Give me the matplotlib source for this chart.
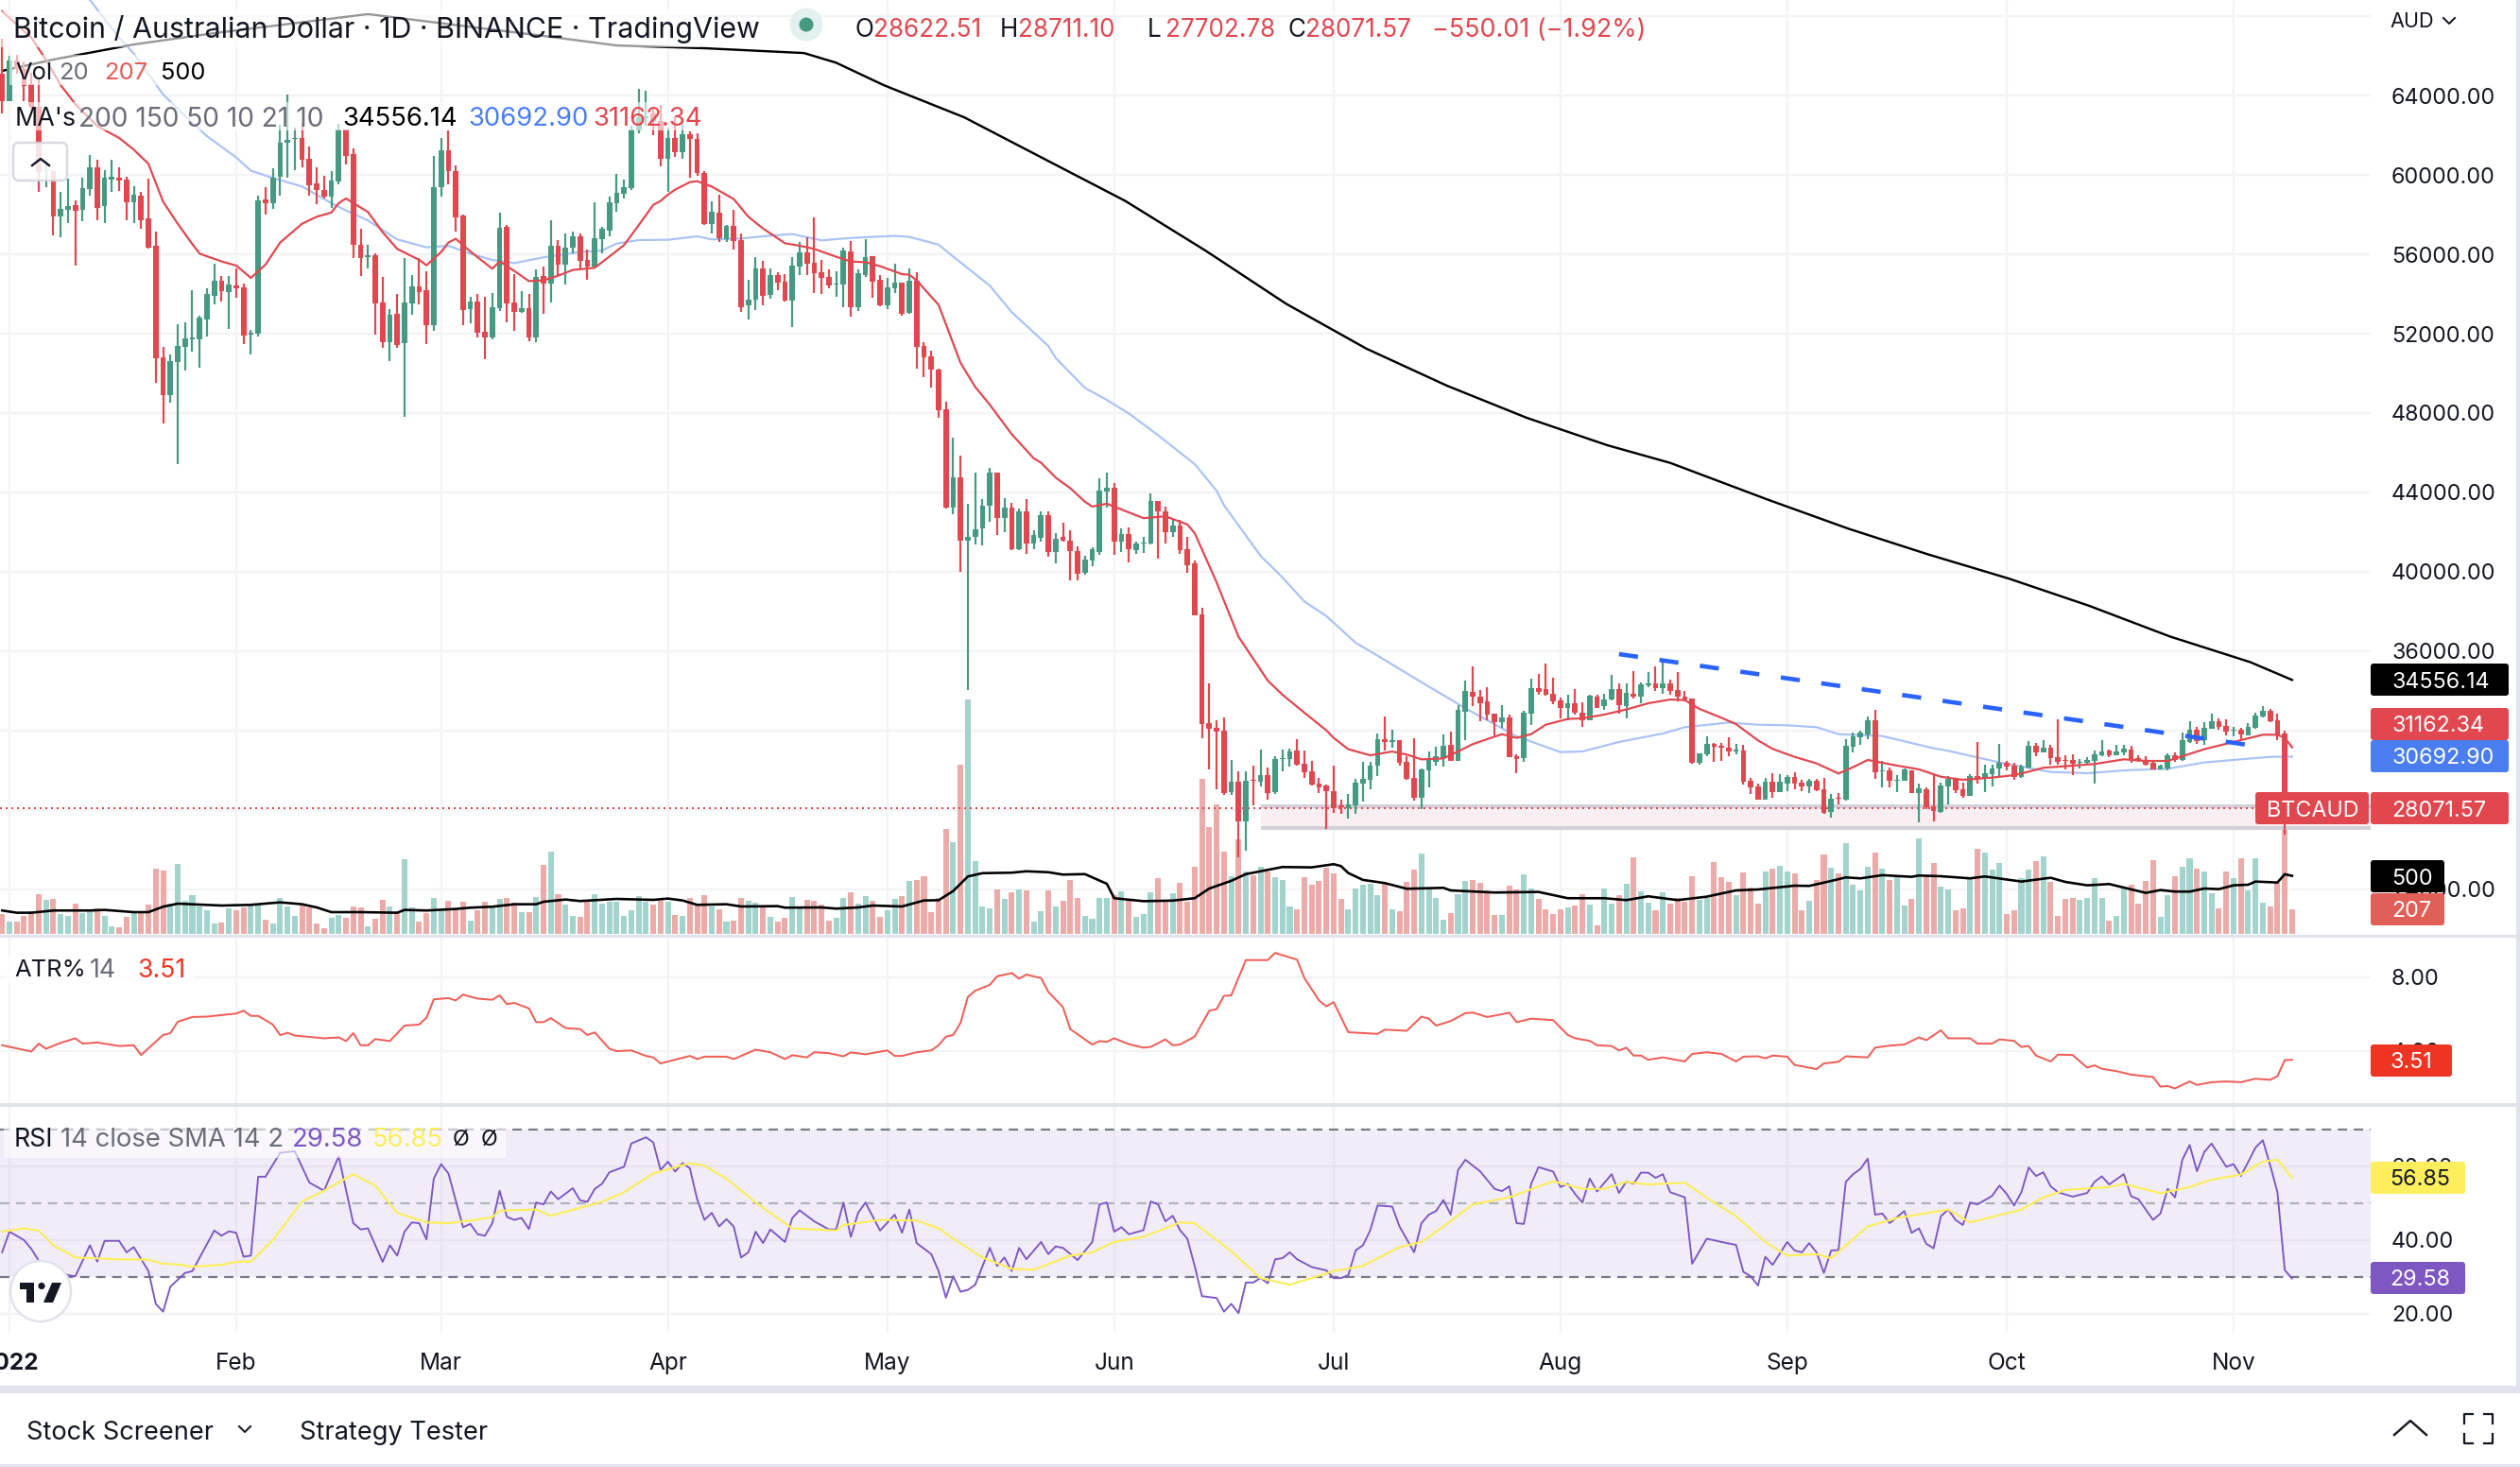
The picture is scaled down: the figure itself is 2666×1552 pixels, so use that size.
import numpy as np
from matplotlib import pyplot as plt
from matplotlib.patches import Rectangle, Circle, FancyBboxPatch, Polygon

plt.rcParams['font.family'] = ['Inter', 'DejaVu Sans']

# daily bars, each one (open, close, high, low), AUD
dec_bars = [(65080,63730,66860,63100)]
jan_bars = [(63730,65760,65985,63730),(65760,65320,66030,65080),(65320,64490,65715,63730),(64560,63415,65160,63335),
(63415,60160,64840,59130),(60190,60240,60795,59365),(60190,57905,60240,56955),(57905,58290,59130,56875),
(58255,58415,59795,57590),(58460,58210,58730,55445),(58255,59335,59845,57685),(59290,60380,61000,58970),
(60380,58335,60745,57700),(58445,59845,60240,57590),(59780,59905,60765,59160),(59845,59730,60365,59190),
(59765,58635,59890,57730),(58635,59000,59415,57590),(58940,57730,59130,57305),(57810,56350,59795,56270),
(56430,50765,57130,49530),(50800,48925,51320,47495),(48925,50605,50955,48545),(50590,51385,52465,45450),
(51350,51765,52560,50160),(51720,51750,54175,51080),(51735,52830,52910,50270),(52735,53985,54270,51860),
(53925,54670,55510,53495),(54670,54160,54925,53605),(54115,54480,54905,52255)]
feb_bars = [(54415,54270,55270,53800),(54335,51910,54510,51495),(51970,52065,52210,50970),(51990,58715,58940,51875),
(58750,58590,59380,58020),(58575,59845,60320,58305),(59905,61620,62540,58970),(61600,61780,64050,59875),
(61795,61875,62380,60240),(61875,60780,62620,60380),(60810,59480,61430,58970),(59575,59225,60365,58540),
(59225,58890,59955,58810),(58905,59715,60175,58335),(59650,62300,62570,59525),(62285,60955,62285,60525),
(61030,56480,61320,55830),(56480,55830,57290,54925),(55845,55955,56465,55305),(55955,53525,56035,51970),
(53575,51590,54860,51305),(51590,52940,53225,50640),(53000,51430,54000,51305),(51545,53575,55795,47830),
(53540,54370,54970,52970),(54370,54100,55795,53495),(54190,52450,55145,51495),(52450,59380,60940,52145)]
mar_bars = [(59400,61240,61860,58920),(61240,60190,62225,59525),(60190,57860,60480,57160),(57940,53210,58000,52450),
(53256,53600,53845,52540),(53600,52050,53985,51830),(52100,51830,53845,50720),(51830,53320,54035,51700),
(53290,57335,58100,53160),(57380,53540,57460,52590),(53560,53115,55000,52145),(53100,53270,54145,53065),
(53290,51830,54000,51640),(51830,54845,55240,51590),(54890,54510,55365,53020),(54540,56430,57700,53575),
(56430,55480,56700,54920),(55495,56335,57035,54495),(56335,56905,57130,56050),(56905,55685,57035,55240),
(55715,55380,56240,54715),(55380,56810,58605,55350),(56780,57285,57380,56050),(57210,58620,58890,56905),
(58570,59095,60050,58145),(59050,59380,59765,58810),(59320,62270,62460,59240),(62220,62890,64330,62095),
(62860,62935,64240,62460),(63095,62700,63445,62015),(62700,60825,63525,60430)]
apr_bars = [(60825,61860,62380,59160),(61860,61145,62940,60905),(61145,62050,62780,60825),(62050,61795,62175,59875),
(61810,60080,62095,59970),(60080,57525,60190,57490),(57525,58145,58650,57065),(58095,56810,59000,56635),
(56765,57430,57460,56635),(57430,56685,58225,56240),(56715,53335,57035,53095),(53430,53715,54715,52715),
(53715,55285,55860,53190),(55285,53905,55665,53430),(53955,54955,55285,53765),(54955,54575,55095,54190),
(54620,53670,55000,53620),(53670,55430,55860,52335),(55380,56095,56620,54955),(56095,55525,56860,54955),
(55570,55050,57860,54050),(55095,54810,55715,54000),(54860,54430,55240,54285),(54460,54525,55145,53860),
(54480,56190,56335,53335),(56145,53335,56670,52860),(53335,55050,55240,53145),(54955,55860,56765,54860),
(55905,54620,55905,53810),(54715,53430,54955,53380)]
may_bars = [(53430,54335,54810,53240),(54285,54575,55525,54050),(54575,53000,54575,52905),(53050,54670,55285,53000),
(54670,51335,55095,50240),(51380,50800,51550,49800),(50850,50170,51140,49270),(50190,48150,50240,47740),
(48200,43240,48590,43190),(43240,44770,46770,42925),(44770,41590,45840,39985),(41590,41785,43410,34055),
(41785,42150,44990,41370),(42200,43340,43680,41345),(43340,45015,45260,42510),(45015,42730,45015,41855),
(42730,43220,43730,41980),(43220,41130,43485,41080),(41130,43070,43190,41080),(43025,41420,43655,40885),
(41420,41835,42075,41130),(41710,42880,43070,41540),(42850,41005,43070,40740),(41005,41690,41930,40445),
(41760,41590,42465,41540),(41590,41055,42100,39595),(41055,39910,41300,39550),(39960,40620,40810,39840),
(40570,41130,41250,40275),(41005,44090,44700,40860),(44070,44215,45015,43240)]
jun_bars = [(44215,41540,44460,40860),(41540,41905,42175,41005),(41905,41130,42220,40495),(41105,41420,41540,40910),
(41420,41470,41785,40960),(41420,43560,43970,41370),(43580,43025,43580,40665),(43025,41980,43290,41420),
(42000,42320,42660,41785),(42320,41105,42635,40885),(41155,40350,41785,39960),(40420,37800,40570,37800),
(37850,32355,38210,31600),(32380,32110,34370,30070),(32135,31965,32500,29025),(31990,28880,32670,28780),
(28905,29440,30510,28780),(29440,27450,29950,25625),(27450,29490,29950,25940),(29510,29465,30240,28225),
(29445,29760,31030,29200),(29760,28875,30130,28540),(28890,30570,30700,28810),(30555,30600,31065,29955),
(30590,30950,31080,30205),(30985,30270,31555,30240),(30335,29905,30985,29635),(29955,29285,30460,29240),
(29320,29160,29605,28875),(29240,28935,29285,27065)]
jul_bars = [(28935,28080,30225,27860),(28175,28145,28525,27810),(28095,28270,28810,27570),(28240,29380,29555,27810),
(29335,29555,30415,28430),(29525,30240,30430,29050),(30240,31570,31860,29715),(31555,31430,32700,31000),
(31445,31510,32050,31145),(31510,30380,31510,30240),(30430,29555,30715,29525),(29605,28605,31620,28475),
(28620,30065,30095,28050),(30000,30525,30950,29145),(30430,30715,31190,30240),(30620,31240,31810,30190),
(31285,30475,31950,30475),(30475,33050,33285,30475),(32950,34000,34525,31525),(33950,33715,35240,33240),
(33715,33380,34050,32475),(33475,32810,34190,32525),(32860,32430,32860,31760),(32430,32665,33285,32145),
(32665,30665,32810,30665),(30715,30570,30810,29855),(30620,32905,33000,30430),(32875,34140,34620,32285),
(34140,33950,34855,33810),(34095,33810,35380,33760),(33855,33460,34665,33335)]
aug_bars = [(33525,33145,33665,32620),(33145,33380,33810,32525),(33380,32905,34095,32810),(32905,32525,33430,32190),
(32525,33760,33810,32525),(33715,33145,33810,33145),(33240,33570,33855,33050),(33570,34095,34810,33525),
(34095,33285,34380,32855),(33240,33905,34380,32620),(33855,33715,35000,33620),(33715,34335,34430,33380),
(34285,34380,34950,34190),(34380,34140,35240,34000),(34140,34380,35525,33855),(34380,34000,34570,33810),
(34050,33715,34950,33475),(33715,33570,34000,33475),(33620,30380,33620,30335),(30380,30855,30855,30285),
(30810,31335,31715,30715),(31335,31190,31380,30430),(31190,31145,31380,30475),(31145,30950,31665,30715),
(30970,31000,31335,30810),(31000,29430,31285,29285),(29475,29145,29620,28810),(29190,28525,29335,28525),
(28525,29430,29620,28525),(29430,28905,29855,28620),(28905,29430,29810,28905)]
sep_bars = [(29335,29665,29760,28955),(29665,29335,29905,29050),(29380,29190,29525,28955),(29190,29475,29570,28855),
(29475,29000,29570,28955),(29050,27860,29620,27810),(27905,28570,28810,27620),(28620,28570,28855,28285),
(28525,31240,31570,28475),(31190,31715,31905,30905),(31665,31905,32000,31285),(31810,32525,32715,31570),
(32525,29905,33050,29570),(29935,30000,30475,29145),(30000,29475,30145,29145),(29475,29525,29760,28905),
(29475,30050,30095,29475),(30000,28855,30000,28855),(28855,29095,29335,27380),(29050,28145,29145,28050),
(28190,27950,29810,27430),(27905,29240,29380,27860),(29190,29570,29715,28285),(29570,29000,29620,28855),
(29050,28715,29380,28620),(28715,29715,29810,28715),(29715,29590,31430,29335),(29570,29855,30285,28905),
(29810,30095,30285,29190),(30095,30380,31335,29665)]
oct_bars = [(30380,30190,30475,30000),(30240,29665,30380,29525),(29665,30190,30285,29620),(30145,31240,31475,30095),
(31240,30905,31380,30715),(30905,31145,31525,30905),(31145,30620,31285,30285),(30665,30430,32570,30285),
(30525,30475,30760,30050),(30525,30335,30810,29760),(30380,30430,30570,30095),(30380,30525,30665,30335),
(30475,30810,31000,29335),(30760,30950,31525,30715),(31000,30760,31050,30665),(30760,30950,31285,30760),
(30905,31095,31285,30760),(31050,30525,31240,30380),(30620,30525,30760,30430),(30525,30285,30715,30240),
(30380,30050,30430,30050),(30050,30240,30285,30050),(30095,30760,30855,30000),(30760,30525,30905,30430),
(30525,31510,31890,30480),(31430,32050,32475,31380),(32050,31480,32190,31335),(31525,32145,32430,31285),
(32095,32475,32860,32095),(32475,32175,32620,32065),(32240,31955,32570,31760)]
nov_bars = [(32000,32050,32190,31715),(32050,31810,32145,31525),(31760,32190,32380,31760),(32145,32750,32905,32095),
(32715,33000,33240,32665),(33000,32475,33095,32430),(32525,31760,32860,31525),(31860,28622,32000,26750),
(28622,28071.57,28711,27702)]

# volume per day
vol_dec = [165]
vol_jan = [104,104,152,192,336,288,296,168,152,256,176,192,216,152,64,56,144,176,184,248,552,536,256,592,280,328,232,200,88,96,216]
vol_feb = [200,224,240,248,120,88,304,232,152,240,224,88,48,136,160,136,232,224,64,128,288,232,192,632,224,104,176,304]
vol_mar = [200,280,200,272,112,200,272,224,296,304,264,184,184,312,584,696,336,248,152,144,272,336,256,272,272,152,200,320,272,248,280]
vol_apr = [272,160,152,304,248,328,232,208,104,112,304,280,264,232,144,104,136,312,216,288,280,248,112,136,304,352,256,320,280,144]
vol_may = [200,296,320,448,456,488,184,302,885,775,1428,1983,612,228,212,375,294,351,375,367,102,192,367,228,277,453,302,151,126,302,302]
vol_jun = [326,359,277,143,167,351,469,269,343,428,269,567,1310,902,1093,694,486,800,526,494,566,526,478,454,230,206,478,414,446,558]
vol_jul = [510,294,206,382,414,422,326,422,206,190,438,542,678,382,302,117,174,334,446,454,430,366,158,158,406,374,502,382,294,206,166]
vol_aug = [206,222,238,334,246,70,382,254,326,422,646,358,262,198,350,254,302,270,486,286,302,606,478,438,326,518,390,254,526,550,574]
vol_sep = [526,510,198,278,454,670,558,510,766,414,366,566,686,550,454,478,238,294,806,486,598,398,374,198,214,462,718,686,542,598]
vol_oct = [166,198,470,542,614,654,438,150,294,302,286,302,470,302,110,150,390,414,254,446,622,142,326,486,566,638,552,528,344,216,528]
vol_nov = [472,640,368,640,264,232,432,1000,207]

# moving averages as (day, value), day 0 = 1 Jan 2022
ma200_pts = [(-1,65240),(6,65810),(17,66570),(28,67140),(49,68100),(73,67000),(83,66520),(95,66380),(108.6,66138),(113,65650),
(119.5,64520),(125,63710),(130.5,62900),(141.5,60794),(152.5,58690),(163.5,56180),(174.5,53507),(185.5,51240),(196.5,49377),
(207.4,47760),(218.4,46380),(227,45490),(240.4,43630),(251.4,42170),(262.3,40875),(273.3,39660),(284.3,38285),(295.3,36745),
(306.3,35450),(312,34556)]
ma21_pts = [(-1,68240),(3,66905),(5,65795),(7,64525),(9,63570),(12,62460),(15,61860),(17,61270),(19,60555),(21,58650),
(23,57540),(25,56510),(26,56030),(29,55640),(31,55430),(33,54810),(35,55480),(37,56590),(40,57540),(42,57890),(44,58100),
(45,58575),(46,58810),(49,58130),(51,57115),(53,56270),(56,55720),(57,55445),(59,56110),(60,56590),(61,56780),(63,56140),
(66,55270),(67,55640),(69,55160),(71,54650),(73,54685),(75,54920),(77,55210),(80,55320),(81,55600),(84,56460),(86,57460),
(88,58490),(89,58685),(90,59000),(91,59255),(93,59636),(94,59680),(96,59410),(99,58780),(101,57890),(103,57300),(106,56555),
(108,56430),(110,56270),(113,55875),(115,55635),(117,55600),(119,55400),(122,55000),(123,54970),(124,54685),(127,53450),
(128,52480),(130,50530),(132,49320),(134,48420),(137,46935),(140,45720),(141,45500),(143,44750),(145,44215),(147,43535),
(148,43290),(150,43435),(153,43000),(155,42705),(158,42800),(161,42390),(162,41955),(165,39475),(166,38550),(168,36730),
(172,34520),(174,33810),(177,32905),(180,32015),(181,31635),(183,31065),(186,30760),(189,30950),(191,30795),(193,30555),
(196,30600),(198,30950),(200,31320),(204,31825),(206,31635),(208,31825),(210,32300),(213,32590),(215,32620),(218,32810),
(221,33065),(224,33380),(227,33570),(229,33540),(231,33095),(234,32650),(236,32330),(239,31510),(241,31080),(244,30680),
(247,30350),(250,29840),(252,30160),(254,30525),(258,30240),(261,30050),(264,29680),(267,29525),(271,29635),(274,29760),
(275,29840),(278,30130),(282,30240),(285,30320),(289,30555),(292,30475),(295,30475),(300,31065),(304,31430),(308,31795),
(310,31795),(311,31635),(312,31162)]
ma50_pts = [(11,68810),(15,66905),(17,66110),(21,64050),(25,62620),(27,61950),(31,60875),(33,60210),(36,59845),(40,59415),
(44,58575),(46,58210),(49,57700),(53,56750),(57,56350),(60,56430),(63,56030),(66,55715),(69,55555),(73,55845),(78,56110),
(81,56190),(83,56540),(86,56715),(90,56730),(94,56905),(96,56750),(100,56795),(104,56940),(107,57020),(111,56700),(114,56795),
(117,56860),(121,56925),(123,56875),(127,56485),(129,55880),(134,54420),(137,53085),(142,51380),(143,50775),(147,49270),
(150,48660),(153,47980),(157,46885),(162,45430),(165,44090),(166,43365),(171,40810),(174,39720),(177,38505),(180,37775),
(184,36428),(186,36000),(193,34440),(197,33570),(199,33125),(206,31715),(212,30920),(215,30950),(220,31430),(226,31855),
(229,32175),(235,32410),(239,32300),(243,32270),(247,32175),(250,31825),(256,31730),(263,31110),(265,30985),(272,30400),
(279,29920),(284,29855),(289,30000),(295,30080),(300,30400),(304,30525),(309,30680),(312,30693)]
vol_ma_pts = [(-1,198),(1,179),(3,179),(6,198),(11,198),(13,203),(17,184),(19,184),(21,230),(23,256),(29,240),(33,246),(37,267),
(40,251),(42,224),(44,184),(48,184),(53,179),(54,203),(57,198),(61,211),(63,222),(66,230),(69,251),(72,251),(73,272),(76,291),
(78,278),(83,296),(88,288),(90,299),(92,283),(94,246),(98,251),(100,232),(105,235),(106,222),(111,224),(113,214),(116,224),
(118,240),(122,232),(125,283),(127,285),(129,363),(131,486),(133,514),(137,518),(139,530),(142,522),(144,502),(147,506),
(150,424),(151,302),(155,277),(159,282),(162,302),(164,384),(167,449),(169,506),(174,566),(178,563),(181,590),(182,574),
(183,515),(185,457),(188,430),(191,382),(196,390),(197,368),(203,350),(209,355),(213,302),(218,302),(221,286),(224,318),
(228,286),(232,315),(234,342),(236,368),(239,376),(244,408),(246,406),(249,448),(251,478),(253,470),(256,497),(260,483),
(261,494),(264,488),(268,470),(270,486),(275,443),(279,475),(281,440),(284,411),(287,422),(292,347),(294,371),(296,358),
(298,358),(300,384),(302,379),(304,411),(306,416),(307,443),(310,435),(311,505),(312,491)]

atr_pts = [(-1,4.30),(3,3.96),(4,4.39),(5,4.11),(7,4.43),(9,4.68),(10,4.39),(12,4.45),(15,4.26),(17,4.30),(18,3.77),(21,4.86),
(22,4.96),(23,5.58),(25,5.84),(27,5.86),(31,6.03),(32,6.18),(33,5.90),(34,5.90),(36,5.43),(37,4.85),(38,4.98),(39,4.83),
(43,4.68),(45,4.73),(46,4.53),(47,4.96),(48,4.30),(49,4.30),(50,4.64),(52,4.53),(54,5.37),(56,5.43),(57,5.80),(58,6.80),
(60,6.87),(61,6.74),(62,7.06),(64,6.84),(66,6.78),(67,7.02),(68,6.54),(69,6.61),(71,6.31),(72,5.56),(73,5.56),(74,5.78),
(76,5.24),(78,5.18),(79,4.86),(80,5.00),(82,4.11),(83,3.98),(85,4.02),(87,3.72),(88,3.64),(89,3.31),(93,3.72),(94,3.55),
(95,3.68),(98,3.68),(99,3.55),(102,4.06),(104,3.92),(106,3.55),(107,3.76),(109,3.64),(110,3.92),(112,3.87),(114,3.70),
(115,3.91),(117,3.81),(120,4.02),(121,3.72),(122,3.72),(124,3.92),(126,4.02),(127,4.30),(128,4.77),(129,4.86),(130,5.52),
(131,6.93),(132,7.27),(134,7.59),(135,8.06),(137,8.23),(138,7.93),(139,8.15),(141,7.96),(142,7.21),(144,6.37),(145,5.18),
(148,4.34),(149,4.53),(150,4.49),(151,4.68),(153,4.36),(155,4.17),(156,4.21),(158,4.62),(159,4.30),(160,4.34),(162,4.77),
(164,6.18),(165,6.27),(166,6.99),(167,7.02),(169,8.94),(172,8.94),(173,9.33),(176,8.96),(177,7.96),(179,6.74),(180,6.42),
(181,6.65),(183,5.01),(187,4.92),(188,5.15),(191,5.09),(193,5.86),(194,5.75),(195,5.37),(197,5.62),(199,6.05),(200,6.08),
(202,5.84),(204,5.99),(205,6.08),(206,5.56),(208,5.75),(211,5.67),(213,4.86),(214,4.68),(216,4.54),(217,4.30),(219,4.26),
(220,4.02),(221,4.17),(222,3.74),(223,3.74),(224,3.51),(226,3.64),(229,3.42),(230,3.83),(232,3.92),(234,3.83),(236,3.42),
(237,3.68),(239,3.70),(240,3.59),(241,3.74),(243,3.68),(244,3.23),(247,3.00),(248,3.31),(250,3.40),(251,3.70),(254,3.64),
(255,4.17),(257,4.28),(259,4.34),(261,4.73),(262,4.58),(264,5.11),(265,4.68),(268,4.68),(269,4.39),(271,4.39),(272,4.62),
(274,4.54),(275,4.21),(276,4.26),(277,3.74),(279,3.42),(280,3.79),(282,3.77),(284,3.08),(285,3.21),(286,3.02),(288,2.89),
(290,2.70),(293,2.57),(294,2.05),(295,2.08),(296,1.95),(298,2.33),(299,2.14),(301,2.29),(303,2.33),(305,2.29),(307,2.48),
(309,2.42),(310,2.61),(311,3.49),(312,3.51)]

rsi_pts = [(-1,36.7),(0,42.3),(2,40.0),(3,37.6),(4,34.4),(8,30.5),(9,30.2),(11,38.6),(12,34.2),(13,39.8),(15,39.8),(16,36.7),
(17,38.1),(19,31.6),(20,22.7),(21,20.6),(22,27.4),(24,31.1),(25,31.6),(28,42.6),(29,41.2),(30,42.4),(31,42.0),(32,35.5),
(33,35.8),(34,57.2),(35,57.2),(37,63.7),(39,64.1),(41,55.6),(43,53.4),(45,62.7),(47,44.6),(48,42.9),(49,43.2),(51,34.1),
(52,38.6),(53,35.8),(54,42.3),(55,44.8),(56,44.6),(57,40.2),(58,56.7),(59,60.6),(60,58.1),(62,43.5),(63,44.4),(64,41.6),
(65,41.2),(66,44.6),(67,53.4),(68,46.3),(69,45.5),(70,46.0),(71,43.0),(72,50.2),(73,49.7),(74,53.2),(75,51.1),(77,54.1),
(78,50.8),(79,50.4),(80,53.9),(81,55.3),(82,58.4),(84,59.9),(85,66.2),(87,67.9),(88,66.5),(89,59.0),(90,61.3),(91,58.6),
(92,60.9),(93,59.5),(94,51.1),(95,45.5),(96,47.4),(97,43.7),(98,45.7),(99,43.7),(100,35.3),(101,36.7),(102,42.3),(103,39.2),
(104,42.9),(106,39.5),(107,46.0),(108,48.1),(110,45.1),(112,42.9),(113,42.9),(114,50.2),(115,40.9),(116,47.4),(117,50.2),
(119,42.6),(121,46.9),(122,42.0),(123,48.3),(124,39.2),(126,36.2),(127,31.6),(128,24.4),(129,30.2),(130,26.0),(131,26.5),
(132,27.9),(134,37.9),(135,33.0),(136,35.3),(137,31.6),(138,37.9),(139,34.8),(141,39.5),(142,36.2),(143,38.3),(144,37.9),
(146,34.6),(148,39.5),(149,49.7),(150,50.2),(151,42.3),(152,43.5),(153,41.6),(155,42.7),(156,50.5),(157,49.7),(158,45.1),
(159,46.6),(160,42.7),(161,40.4),(162,33.0),(163,24.8),(165,24.3),(166,20.6),(167,22.7),(168,20.2),(169,28.5),(170,28.5),
(171,29.7),(172,28.3),(173,34.8),(174,35.1),(175,36.7),(176,34.8),(178,32.7),(180,31.8),(181,29.7),(182,29.7),(183,30.5),
(184,37.2),(185,38.6),(186,42.7),(187,49.4),(189,49.1),(190,43.7),(192,36.7),(193,44.6),(194,46.9),(195,47.9),(196,50.9),
(197,46.9),(198,59.0),(199,61.8),(201,58.7),(203,53.9),(204,53.3),(205,54.6),(206,44.6),(207,44.4),(208,55.3),(209,59.8),
(211,58.6),(212,54.4),(213,55.3),(214,52.5),(215,50.2),(216,56.7),(217,53.2),(219,57.9),(220,52.8),(221,55.9),(222,55.3),
(223,58.3),(224,58.3),(225,56.9),(226,57.9),(227,53.0),(229,51.6),(230,33.6),(232,40.4),(234,39.5),(236,38.7),(237,31.4),
(238,30.2),(239,27.7),(240,35.5),(241,33.3),(243,39.5),(244,37.2),(245,36.7),(246,39.2),(247,36.7),(248,31.1),(249,37.2),
(250,37.3),(251,55.8),(252,57.9),(253,59.3),(254,62.1),(255,46.9),(256,47.2),(257,44.6),(259,47.9),(260,42.0),(261,43.2),
(262,39.0),(263,37.8),(264,46.5),(265,48.3),(266,45.5),(267,44.1),(268,50.2),(269,49.7),(271,52.0),(272,54.8),(273,52.5),
(274,49.4),(275,53.0),(276,59.7),(277,57.4),(278,58.4),(279,54.6),(280,53.0),(282,51.8),(284,52.8),(285,55.8),(286,57.3),
(287,55.1),(289,57.9),(290,51.9),(291,51.1),(292,48.3),(293,45.5),(294,47.2),(295,53.9),(296,51.6),(297,61.8),(298,65.8),
(299,58.7),(300,63.9),(301,66.2),(303,59.9),(304,60.6),(305,57.4),(306,61.2),(307,65.1),(308,67.1),(309,60.4),(310,53.0),
(311,31.9),(312,29.58)]
rsi_ma_pts = [(-1,42.3),(2,43.2),(4,42.6),(6,38.6),(9,35.3),(15,34.8),(19,34.7),(21,33.6),(23,33.4),(25,32.8),(29,33.3),(31,34.1),
(33,34.2),(36,40.0),(40,50.5),(43,53.4),(47,57.9),(50,54.8),(53,47.4),(57,44.8),(60,44.6),(63,45.3),(66,46.2),(67,48.0),
(72,48.3),(74,46.6),(81,50.4),(84,53.0),(88,58.1),(93,60.9),(95,60.2),(98,56.7),(102,50.2),(107,43.2),(113,42.6),(114,44.1),
(119,45.5),(124,45.3),(127,43.2),(129,40.4),(133,35.3),(137,32.2),(140,32.0),(145,35.8),(148,36.7),(151,39.5),(155,40.9),
(160,44.8),(162,44.6),(167,37.0),(171,29.7),(175,27.9),(181,31.6),(185,33.0),(190,38.1),(193,39.5),(196,43.7),(200,49.7),
(205,51.6),(211,56.0),(215,53.9),(218,53.9),(221,55.8),(224,55.1),(229,55.6),(233,50.2),(236,46.5),(240,39.5),(243,35.8),
(247,36.2),(249,35.1),(254,43.7),(258,46.0),(265,48.3),(268,44.8),(275,48.3),(278,51.6),(281,53.6),(287,54.4),(289,55.3),
(294,52.7),(298,54.4),(301,56.4),(305,57.8),(308,61.3),(310,61.8),(312,56.85)]

trend_days = [220, 306.8]
trend_prices = [35857, 31238]
zone_days = [171, 322.74]
zone_prices = [27095, 28190]
last_close = 28071.57

month_days = [0, 31, 59, 90, 120, 151, 181, 212, 243, 273, 304]
month_labels = ['2022', 'Feb', 'Mar', 'Apr', 'May', 'Jun', 'Jul', 'Aug', 'Sep', 'Oct', 'Nov']
price_ticks = [64000, 60000, 56000, 52000, 48000, 44000, 40000, 36000, 32000, 28000, 24000]
atr_ticks = [8, 4]
rsi_ticks = [60, 40, 20]

GREEN = '#459a81'
RED = '#e0474f'
GREEN_V = '#a2d3cd'
RED_V = '#ecaba8'
GRID = '#f3f4f6'
SEP = '#e0e3eb'
DARK = '#131722'
GREY = '#6a6d78'
PURPLE = '#7e57c2'
YELLOW = '#fcee5c'
BLUE_TAG = '#4a7def'
PX = 72 / 200   # one image pixel in points
W, H = 2666, 1552


def pane(top, bottom, right=2508):
    return fig.add_axes([0, 1 - bottom / H, right / W, (bottom - top) / H])


def split(pts):
    return [p[0] for p in pts], [p[1] for p in pts]


fig = plt.figure(figsize=(13.33, 7.76), dpi=200, facecolor='white')

bars = np.array(dec_bars + jan_bars + feb_bars + mar_bars + apr_bars + may_bars + jun_bars
                + jul_bars + aug_bars + sep_bars + oct_bars + nov_bars, dtype=float)
volume = vol_dec + vol_jan + vol_feb + vol_mar + vol_apr + vol_may + vol_jun + vol_jul + vol_aug + vol_sep + vol_oct + vol_nov
days = np.arange(-1, len(bars) - 1)
opens, closes, highs, lows = bars.T
up = closes >= opens

XMIN, XMAX = -1.292, 322.74

# back pane: grid and price axis
ax_back = pane(0, 990)
ax_back.set_xlim(XMIN, XMAX)
ax_back.set_ylim(21666, 68810)
ax_back.set_yticks(price_ticks + [68000])
ax_back.set_yticklabels(['%.2f' % p for p in price_ticks] + [''])

# volume sits between the grid and the candles
ax_vol = pane(0, 990)
ax_vol.set_xlim(XMIN, XMAX)
ax_vol.set_ylim(-16, 7904)
ax_vol.patch.set_visible(False)
ax_vol.axis('off')
ax_vol.bar(days, volume, width=0.78, color=[GREEN_V if u else RED_V for u in up], linewidth=0)
ax_vol.plot(*split(vol_ma_pts), color='black', lw=2.6 * PX, solid_joinstyle='round')

ax = pane(0, 990)
ax.set_xlim(XMIN, XMAX)
ax.set_ylim(21666, 68810)
ax.patch.set_visible(False)
ax.axis('off')

# support zone: pale fill, only top and bottom carry a border
ax.add_patch(Rectangle((zone_days[0], zone_prices[0]), zone_days[1] - zone_days[0], zone_prices[1] - zone_prices[0],
                       facecolor='#f9eef2', linewidth=0, zorder=1))
ax.hlines(zone_prices, zone_days[0], zone_days[1], color='#d3d0da', lw=4 * PX, zorder=1)
ax.plot(*split(ma50_pts), color='#a9c3f6', lw=2.2 * PX, zorder=2)
ax.plot(*split(ma200_pts), color='black', lw=2.4 * PX, zorder=2)
ax.hlines(last_close, XMIN, XMAX, color=RED, lw=2 * PX, linestyles=(0, (1, 2)), zorder=2)

colors = [GREEN if u else RED for u in up]
ax.vlines(days, lows, highs, color=colors, lw=2.2 * PX, zorder=3)
body_h = np.maximum(np.abs(closes - opens), 70)
ax.bar(days, body_h, bottom=np.minimum(opens, closes), width=0.74, color=colors, linewidth=0, zorder=3)

ax.plot(*split(ma21_pts), color=RED, lw=2.2 * PX, zorder=4)
ax.plot(trend_days, trend_prices, color='#2962ff', lw=4.6 * PX, linestyle=(0, (4.4, 5)),
        dash_capstyle='butt', zorder=4)

# ATR pane
ax_atr = pane(992, 1168)
ax_atr.set_xlim(XMIN, XMAX)
ax_atr.set_ylim(1.10, 10.16)
ax_atr.set_yticks(atr_ticks)
ax_atr.set_yticklabels(['%.2f' % v for v in atr_ticks])
ax_atr.plot(*split(atr_pts), color='#ef5f58', lw=2 * PX, zorder=3)

# RSI pane
ax_rsi = pane(1171, 1410)
ax_rsi.set_xlim(XMIN, XMAX)
ax_rsi.set_ylim(14.87, 76.15)
ax_rsi.set_yticks(rsi_ticks)
ax_rsi.set_yticklabels(['%.2f' % v for v in rsi_ticks])
ax_rsi.axhspan(30, 70, facecolor=PURPLE, alpha=0.1, linewidth=0, zorder=1)
for level, col in [(70, '#787b86'), (50, '#b0b1b9'), (30, '#787b86')]:
    ax_rsi.axhline(level, color=col, lw=2.2 * PX, linestyle=(0, (4.5, 3.2)), zorder=2)
ax_rsi.plot(*split(rsi_pts), color=PURPLE, lw=1.9 * PX, zorder=3)
ax_rsi.plot(*split(rsi_ma_pts), color=YELLOW, lw=2.2 * PX, zorder=4)

for a in (ax_back, ax_atr, ax_rsi):
    a.yaxis.tick_right()
    a.set_xticks(month_days)
    a.grid(True, color=GRID, lw=2.4 * PX, zorder=0)
    a.set_axisbelow(True)
    a.tick_params(axis='both', length=0, labelsize=8.4, labelcolor=DARK)
    a.tick_params(axis='y', pad=22 * PX)
    a.set_xticklabels([])
    for s in a.spines.values():
        s.set_visible(False)
ax_rsi.set_xticklabels(month_labels)
ax_rsi.tick_params(axis='x', pad=21 * PX, labelsize=8.8)
ax_rsi.get_xticklabels()[0].set_fontweight('bold')

# everything that sits on top of the chart, in image pixels
ui = fig.add_axes([0, 0, 1, 1], zorder=10)
ui.set_xlim(0, W)
ui.set_ylim(H, 0)
ui.axis('off')
ui.patch.set_visible(False)


def txt(x, y, s, color=DARK, size=8.4, **kw):
    ui.text(x, y, s, color=color, fontsize=size, va='center_baseline', ha=kw.pop('ha', 'left'), zorder=20, **kw)


def box(x0, y0, x1, y1, color, alpha=1.0, z=10):
    ui.add_patch(Rectangle((x0, y0), x1 - x0, y1 - y0, facecolor=color, alpha=alpha, linewidth=0, zorder=z))


def tag(x0, y0, x1, y1, color, s, tcolor='white', tx=2530):
    ui.add_patch(FancyBboxPatch((x0 + 3, y0 + 3), x1 - x0 - 6, y1 - y0 - 6, boxstyle='round,pad=3',
                                facecolor=color, linewidth=0, zorder=12))
    txt(tx, (y0 + y1) / 2, s, color=tcolor, size=8.4)


# separators and frame
box(0, 989, 2663, 992, SEP)
box(0, 1167, 2663, 1171, SEP)
box(2662, 0, 2666, 1466, SEP)
box(0, 1466, W, 1474, SEP)
box(0, 1549, W, 1552, SEP)

# fade behind the legend rows
box(0, 12, 740, 50, 'white', 0.6)
box(10, 58, 225, 90, 'white', 0.6)
box(10, 108, 750, 138, 'white', 0.6)
box(5, 1010, 205, 1040, 'white', 0.8)
box(4, 1194, 535, 1225, 'white', 0.6)

txt(14, 28, 'Bitcoin / Australian Dollar · 1D · BINANCE · TradingView', size=10.95)
ui.add_patch(Circle((853, 26), 17.5, facecolor='#e3f1ee', linewidth=0, zorder=12))
ui.add_patch(Circle((853, 26), 7.5, facecolor=GREEN, linewidth=0, zorder=13))

for x, letter, value in [(905, 'O', '28622.51'), (1058, 'H', '28711.10'), (1214, 'L', '27702.78'), (1362, 'C', '28071.57')]:
    txt(x, 29, letter, size=9.4)
    txt(x + 19, 29, value, color=RED, size=9.4)
txt(1515, 29, '−550.01 (−1.92%)', color=RED, size=9.7)

txt(16, 75, 'Vol', size=9.2)
txt(62, 75, '20', color=GREY, size=9.2)
txt(110, 75, '207', color='#e05f56', size=9.2)
txt(170, 75, '500', color='black', size=9.2)

txt(16, 123, "MA's", size=9.7)
txt(83, 123, '200 150 50 10 21 10', color=GREY, size=10.1)
txt(362, 123, '34556.14', color='black', size=9.9)
txt(495, 123, '30692.90', color=BLUE_TAG, size=9.9)
txt(627, 123, '31162.34', color=RED, size=9.9)

txt(15, 1024, 'ATR%', size=9.2)
txt(95, 1024, '14', color=GREY, size=9.6)
txt(145, 1024, '3.51', color='#ee3524', size=9.6)

txt(15, 1203, 'RSI', size=9.6)
txt(64, 1203, '14 close SMA 14 2', color=GREY, size=9.9)
txt(309, 1203, '29.58', color=PURPLE, size=9.9)
txt(394, 1203, '56.85', color=YELLOW, size=9.9)
txt(479, 1203, 'Ø', size=8.4)
txt(509, 1203, 'Ø', size=8.4)

# collapse button
ui.add_patch(FancyBboxPatch((20, 157), 45, 28, boxstyle='round,pad=6', facecolor='white', alpha=0.85,
                            edgecolor='#d1d4dc', lw=2.4 * PX, zorder=12))
ui.plot([34, 43, 52], [175, 168, 175], color=DARK, lw=2.4 * PX, zorder=13)

# right axis unit
txt(2528, 21, 'AUD', size=7.8)
ui.plot([2585, 2591, 2597], [19, 25, 19], color=DARK, lw=2 * PX, zorder=13)

# price tags
tag(2508, 702, 2654, 736, 'black', '34556.14')
tag(2508, 749, 2654, 783, RED, '31162.34')
tag(2508, 783, 2654, 817, BLUE_TAG, '30692.90')
tag(2386, 838, 2506, 872, RED, 'BTCAUD', tx=2398)
tag(2508, 838, 2654, 872, RED, '28071.57')
tag(2508, 910, 2586, 944, 'black', '500')
tag(2508, 945, 2586, 979, '#e05f56', '207')
tag(2508, 1105, 2594, 1139, '#ee3524', '3.51', tx=2528)
tag(2508, 1229, 2608, 1263, YELLOW, '56.85', tcolor=DARK, tx=2528)
tag(2508, 1335, 2608, 1369, PURPLE, '29.58', tx=2528)

# TradingView badge
ui.add_patch(Circle((43, 1366), 32, facecolor='white', edgecolor=SEP, lw=2.4 * PX, zorder=12))
ui.add_patch(Polygon([(21, 1357), (36, 1357), (36, 1378), (28, 1378), (28, 1364), (21, 1364)], facecolor=DARK, lw=0, zorder=13))
ui.add_patch(Circle((44, 1360.5), 3.6, facecolor=DARK, lw=0, zorder=13))
ui.add_patch(Polygon([(55, 1357), (65, 1357), (56, 1378), (46, 1378)], facecolor=DARK, lw=0, zorder=13))

# bottom toolbar
txt(28, 1513, 'Stock Screener', size=9.8)
ui.plot([253, 259, 265], [1509, 1515, 1509], color=DARK, lw=2 * PX, zorder=13)
txt(317, 1513, 'Strategy Tester', size=9.8)
ui.plot([2533, 2550, 2567], [1518, 1503, 1518], color=DARK, lw=2.4 * PX, zorder=13)
for xs, ys in [([2607, 2607, 2616], [1506, 1496, 1496]), ([2628, 2637, 2637], [1496, 1496, 1506]),
               ([2607, 2607, 2616], [1517, 1527, 1527]), ([2628, 2637, 2637], [1527, 1527, 1517])]:
    ui.plot(xs, ys, color=DARK, lw=2.2 * PX, zorder=13)

fig.savefig('out.png', dpi=200, facecolor='white')
